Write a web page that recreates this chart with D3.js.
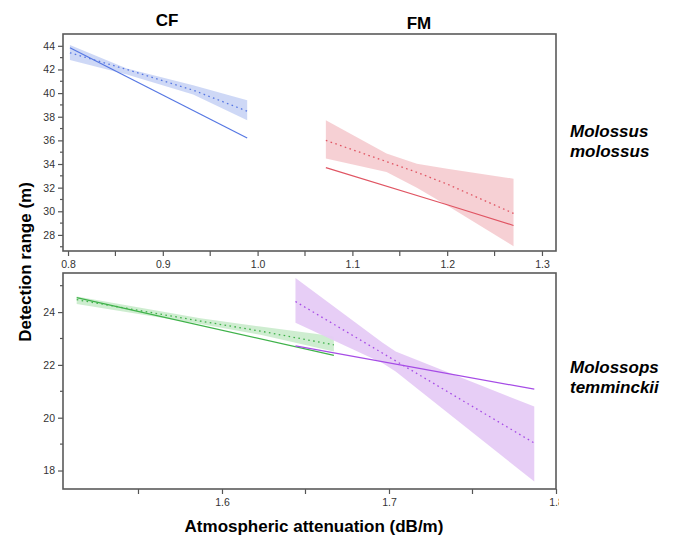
<!DOCTYPE html>
<html>
<head>
<meta charset="utf-8">
<script src="https://cdn.jsdelivr.net/npm/d3@7"></script>
<style>
  body { margin: 0; background: #fff; }
  svg { font-family: Arial, "Liberation Sans", sans-serif; }
</style>
</head>
<body>
<svg id="chart" width="674" height="537"></svg>
<script>
// ---- data ----
// Molossus molossus, CF
const cfMmX    = [0.802, 0.862, 0.932, 0.989];
const cfMmFit  = [43.41, 42.0, 40.25, 38.47];
const cfMmLo   = [42.79, 41.58, 39.88, 37.70];
const cfMmHi   = [44.06, 42.08, 40.67, 39.40];
const cfMmObsX = [0.802, 0.989];
const cfMmObs  = [43.83, 36.20];

// Molossus molossus, FM
const fmMmX    = [1.072, 1.136, 1.168, 1.200, 1.270];
const fmMmFit  = [36.00, 34.20, 33.30, 32.30, 29.82];
const fmMmLo   = [34.46, 33.32, 32.00, 30.50, 27.05];
const fmMmHi   = [37.70, 34.88, 34.03, 33.60, 32.76];
const fmMmObsX = [1.072, 1.200, 1.270];
const fmMmObs  = [33.70, 30.55, 28.80];

// Molossops temminckii, CF
const cfMtX    = [1.513, 1.587, 1.623, 1.667];
const cfMtFit  = [24.47, 23.66, 23.28, 22.76];
const cfMtLo   = [24.31, 23.55, 23.14, 22.51];
const cfMtHi   = [24.59, 23.77, 23.45, 23.08];
const cfMtObsX = [1.513, 1.667];
const cfMtObs  = [24.55, 22.36];

// Molossops temminckii, FM
const fmMtX    = [1.644, 1.696, 1.704, 1.787];
const fmMtFit  = [24.40, 22.45, 22.15, 19.04];
const fmMtLo   = [23.60, 22.07, 21.75, 17.58];
const fmMtHi   = [25.29, 22.85, 22.51, 20.42];
const fmMtObsX = [1.644, 1.787];
const fmMtObs  = [22.72, 21.08];

const topXTicks = [0.8, 0.9, 1.0, 1.1, 1.2, 1.3];
const topXMinor = [0.85, 0.95, 1.05, 1.15, 1.25];
const topYTicks = [28, 30, 32, 34, 36, 38, 40, 42, 44];
const topYMinor = [27, 29, 31, 33, 35, 37, 39, 41, 43];
const botXTicks = [1.6, 1.7, 1.8];
const botXMinor = [1.55, 1.65, 1.75];
const botYTicks = [18, 20, 22, 24];
const botYMinor = [19, 21, 23, 25];

const colors = {
  blue:   { line: "#5677e3", band: "#cbd6f6" },
  red:    { line: "#e05563", band: "#f6cdd2" },
  green:  { line: "#3fb24a", band: "#cbeccd" },
  purple: { line: "#a64ce6", band: "#e6cbf6" }
};

// ---- layout ----
const svg = d3.select("#chart");
const left = 63, right = 556;

const topX = d3.scaleLinear().domain([0.7947, 1.3148]).range([left, right]);
const topY = d3.scaleLinear().domain([26.64, 45.0]).range([251, 34]);
const botX = d3.scaleLinear().domain([1.5048, 1.8]).range([left, right]);
const botY = d3.scaleLinear().domain([17.3, 25.48]).range([489, 273]);

function zip(xs, ys) { return xs.map((x, i) => [x, ys[i]]); }

function drawSeries(g, x, y, xs, fit, lo, hi, obsX, obs, c) {
  const area = d3.area()
      .x((d, i) => x(xs[i]))
      .y0(d => y(d[0]))
      .y1(d => y(d[1]));
  g.append("path")
    .datum(lo.map((v, i) => [v, hi[i]]))
    .attr("d", area)
    .attr("fill", c.band)
    .attr("opacity", 0.95);

  const line = d3.line().x(d => x(d[0])).y(d => y(d[1]));
  g.append("path")
    .datum(zip(xs, fit))
    .attr("d", line)
    .attr("fill", "none")
    .attr("stroke", c.line)
    .attr("stroke-width", 1.3)
    .attr("stroke-dasharray", "1.6,3.4");
  g.append("path")
    .datum(zip(obsX, obs))
    .attr("d", line)
    .attr("fill", "none")
    .attr("stroke", c.line)
    .attr("stroke-width", 1.2);
}

function drawPanel(x, y, xTicks, xMinor, yTicks, yMinor, clipLabels) {
  const g = svg.append("g");
  const [y0, y1] = y.range();

  const xa = g.append("g")
      .attr("transform", "translate(0," + y0 + ")")
      .call(d3.axisBottom(x).tickValues(xTicks).tickFormat(d3.format(".1f"))
        .tickSize(5).tickPadding(5));
  xa.append("g").selectAll("line").data(xMinor).join("line")
      .attr("x1", d => x(d)).attr("x2", d => x(d))
      .attr("y1", 0).attr("y2", 5);

  const ya = g.append("g")
      .attr("transform", "translate(" + left + ",0)")
      .call(d3.axisLeft(y).tickValues(yTicks).tickFormat(d3.format("d"))
        .tickSize(5).tickPadding(3));
  ya.append("g").selectAll("line").data(yMinor).join("line")
      .attr("x1", 0).attr("x2", -3)
      .attr("y1", d => y(d)).attr("y2", d => y(d));

  [xa, ya].forEach(a => {
    a.select(".domain").remove();
    a.selectAll("line").attr("stroke", "#555").attr("stroke-width", 1.2);
    a.selectAll("text").attr("fill", "#333").style("font-size", "10.5px");
  });
  // the last label on the lower panel is cut off at the frame edge
  if (clipLabels) xa.attr("clip-path", "url(#labelClip)");

  g.append("rect")
    .attr("x", left).attr("y", y1)
    .attr("width", right - left).attr("height", y0 - y1)
    .attr("fill", "none").attr("stroke", "#5a5a5a").attr("stroke-width", 1.6);
  return g;
}

svg.append("defs").append("clipPath").attr("id", "labelClip")
  .attr("clipPathUnits", "userSpaceOnUse")
  .append("rect").attr("x", 0).attr("y", -5).attr("width", right + 3).attr("height", 30);

const topG = svg.append("g");
drawSeries(topG, topX, topY, cfMmX, cfMmFit, cfMmLo, cfMmHi, cfMmObsX, cfMmObs, colors.blue);
drawSeries(topG, topX, topY, fmMmX, fmMmFit, fmMmLo, fmMmHi, fmMmObsX, fmMmObs, colors.red);

const botG = svg.append("g");
drawSeries(botG, botX, botY, cfMtX, cfMtFit, cfMtLo, cfMtHi, cfMtObsX, cfMtObs, colors.green);
drawSeries(botG, botX, botY, fmMtX, fmMtFit, fmMtLo, fmMtHi, fmMtObsX, fmMtObs, colors.purple);

drawPanel(topX, topY, topXTicks, topXMinor, topYTicks, topYMinor, false);
drawPanel(botX, botY, botXTicks, botXMinor, botYTicks, botYMinor, true);

// ---- titles and labels ----
const bold = sel => sel.attr("font-weight", "bold").attr("fill", "#000").style("font-size", "17px");

svg.append("text").attr("x", 167).attr("y", 26).attr("text-anchor", "middle").text("CF").call(bold);
svg.append("text").attr("x", 419).attr("y", 29).attr("text-anchor", "middle").text("FM").call(bold);

svg.append("text")
  .attr("transform", "translate(31,262) rotate(-90)")
  .attr("text-anchor", "middle")
  .text("Detection range (m)").call(bold);

svg.append("text").attr("x", 314).attr("y", 532).attr("text-anchor", "middle")
  .text("Atmospheric attenuation (dB/m)").call(bold);

const species = [["Molossus", "molossus", 137], ["Molossops", "temminckii", 373]];
species.forEach(s => {
  const t = svg.append("text").attr("x", 570).attr("y", s[2])
    .attr("font-style", "italic").call(bold);
  t.append("tspan").attr("x", 570).text(s[0]);
  t.append("tspan").attr("x", 570).attr("dy", 20).text(s[1]);
});
</script>
</body>
</html>
